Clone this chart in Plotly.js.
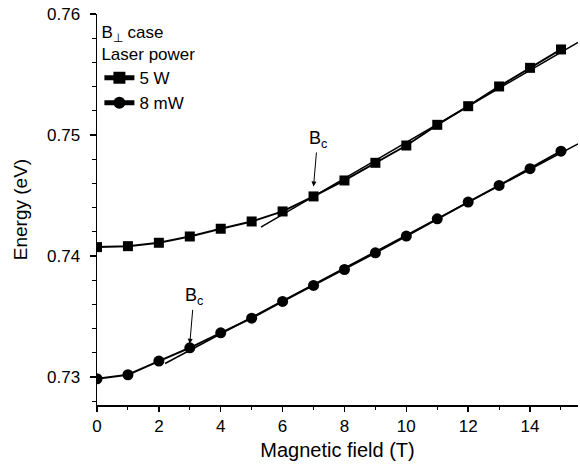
<!DOCTYPE html>
<html>
<head>
<meta charset="utf-8">
<script src="https://cdn.plot.ly/plotly-3.0.1.min.js"></script>
<style>html,body{margin:0;padding:0;background:#fff;}#chart{width:580px;height:466px;}</style>
</head>
<body>
<div id="chart"></div>
<script>
// Data
const fieldT = [0,1,2,3,4,5,6,7,8,9,10,11,12,13,14,15];
const energy5W = [0.74073,0.74081,0.74109,0.74161,0.74225,0.74285,0.74368,0.74492,0.74624,0.74770,0.74913,0.75084,0.75238,0.75401,0.75555,0.75707];
const energy8mW = [0.72985,0.73018,0.73131,0.73241,0.73365,0.73486,0.73624,0.73756,0.73888,0.74026,0.74164,0.74307,0.74445,0.74583,0.74721,0.74866];
// linear high-field fits (end points)
const fit5W_x = [5.3, 15.55];
const fit5W_y = [0.74238, 0.75766];
const fit8mW_x = [2.2, 15.55];
const fit8mW_y = [0.73111, 0.74927];
// critical field markers
const bcField = [7, 3];
const bcEnergy = [0.74574, 0.73274];
const seriesNames = ['5 W', '8 mW'];
const legendTitle = 'B<sub>⊥</sub> case<br>Laser power';
const xTitle = 'Magnetic field (T)';
const yTitle = 'Energy (eV)';

const font = 'Liberation Sans, Arial, Helvetica, sans-serif';

const traces = [
  {x: fit5W_x, y: fit5W_y, mode: 'lines', line: {color: '#000', width: 1.5}, showlegend: false, hoverinfo: 'skip'},
  {x: fit8mW_x, y: fit8mW_y, mode: 'lines', line: {color: '#000', width: 1.5}, showlegend: false, hoverinfo: 'skip'},
  {x: fieldT, y: energy5W, name: seriesNames[0], mode: 'lines+markers',
   line: {color: '#000', width: 2}, marker: {symbol: 'square', size: 10, color: '#000'}},
  {x: fieldT, y: energy8mW, name: seriesNames[1], mode: 'lines+markers',
   line: {color: '#000', width: 2}, marker: {symbol: 'circle', size: 11, color: '#000'}}
];

const annotations = bcField.map((bx, i) => ({
  x: bx, y: bcEnergy[i], xref: 'x', yref: 'y',
  text: 'B<sub>c</sub>', showarrow: true, arrowhead: 2, arrowsize: 1, arrowwidth: 1,
  arrowcolor: '#000', ax: 4, ay: -47, standoff: 0,
  font: {family: font, size: 18, color: '#000'}
}));

const layout = {
  width: 580, height: 466,
  margin: {l: 97, r: 2, t: 14, b: 61},
  paper_bgcolor: '#fff', plot_bgcolor: '#fff',
  font: {family: font, size: 17, color: '#000'},
  showlegend: true,
  legend: {
    x: 0.005, y: 0.995, xanchor: 'left', yanchor: 'top',
    bgcolor: 'rgba(0,0,0,0)',
    font: {family: font, size: 17, color: '#000'},
    title: {text: legendTitle, font: {family: font, size: 17, color: '#000'}, side: 'top'},
    traceorder: 'normal', tracegroupgap: 0, itemsizing: 'constant'
  },
  xaxis: {
    range: [0, 15.55], showgrid: false, zeroline: false,
    showline: true, linecolor: '#000', linewidth: 1.5, mirror: false,
    ticks: 'outside', ticklen: 5, tickwidth: 1.5, tickcolor: '#000',
    tick0: 0, dtick: 2, ticklabelstandoff: 0,
    minor: {ticks: 'outside', dtick: 1, ticklen: 3, tickwidth: 1, tickcolor: '#000', showgrid: false},
    tickfont: {family: font, size: 17, color: '#000'},
    title: {text: xTitle, font: {family: font, size: 20, color: '#000'}, standoff: 8}
  },
  yaxis: {
    range: [0.72768, 0.76], showgrid: false, zeroline: false,
    showline: true, linecolor: '#000', linewidth: 1.5, mirror: false,
    ticks: 'outside', ticklen: 6, tickwidth: 1.5, tickcolor: '#000',
    tick0: 0.73, dtick: 0.01, tickformat: '.2f', ticklabelstandoff: 6,
    minor: {ticks: 'outside', dtick: 0.002, ticklen: 4, tickwidth: 1, tickcolor: '#000', showgrid: false},
    tickfont: {family: font, size: 17, color: '#000'},
    title: {text: yTitle, font: {family: font, size: 19, color: '#000'}, standoff: 14}
  },
  annotations: annotations
};

Plotly.newPlot('chart', traces, layout, {displayModeBar: false, staticPlot: true});
</script>
</body>
</html>
